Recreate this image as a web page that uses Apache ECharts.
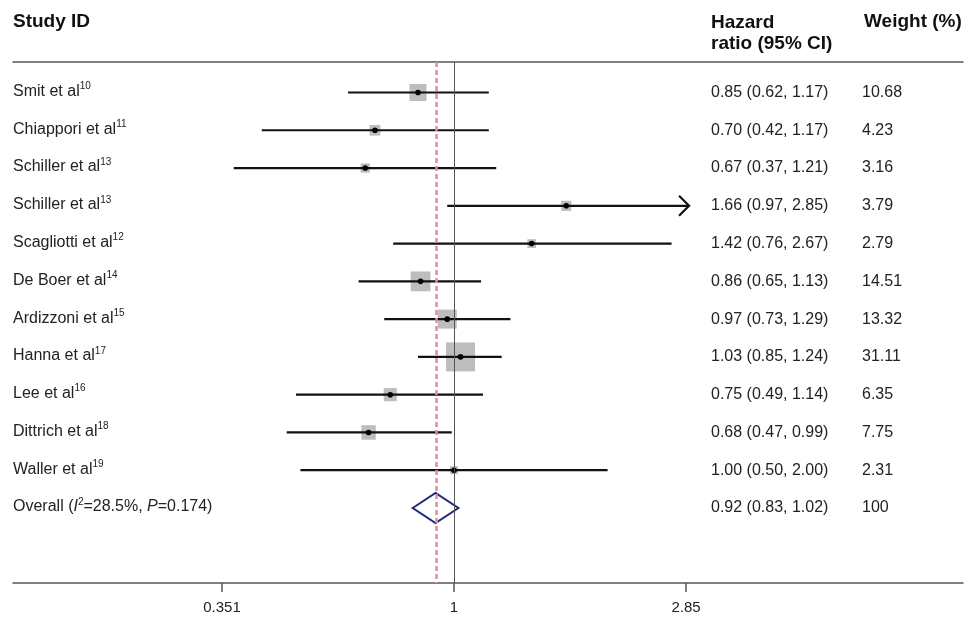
<!DOCTYPE html>
<html><head><meta charset="utf-8">
<script src="https://cdn.jsdelivr.net/npm/echarts@6/dist/echarts.min.js"></script>
<style>html,body{margin:0;padding:0;background:#fff}#c{width:976px;height:619px}</style>
</head><body><div id="c"></div>
<script>
// ---- data ----
const studies = ['Smit et al','Chiappori et al','Schiller et al','Schiller et al','Scagliotti et al','De Boer et al','Ardizzoni et al','Hanna et al','Lee et al','Dittrich et al','Waller et al'];
const refs = ['10','11','13','13','12','14','15','17','16','18','19'];
const hr = [0.85,0.70,0.67,1.66,1.42,0.86,0.97,1.03,0.75,0.68,1.00];
const ciLow = [0.62,0.42,0.37,0.97,0.76,0.65,0.73,0.85,0.49,0.47,0.50];
const ciHigh = [1.17,1.17,1.21,2.85,2.67,1.13,1.29,1.24,1.14,0.99,2.00];
const weights = [10.68,4.23,3.16,3.79,2.79,14.51,13.32,31.11,6.35,7.75,2.31];
const overallHR = 0.92, overallLow = 0.83, overallHigh = 1.02, overallWeight = '100';
const overallI2 = '28.5%', overallP = '0.174';
const xTickValues = [0.351, 1, 2.85];
const xTickLabels = ['0.351', '1', '2.85'];

// ---- build ----
const FONT = '"Liberation Sans", Arial, sans-serif';
const ln = Math.log;
const nRows = studies.length + 1;
const rowIdx = Array.from({length: nRows}, (_, i) => i + 1);
const hrText = hr.map((v, i) => v.toFixed(2) + ' (' + ciLow[i].toFixed(2) + ', ' + ciHigh[i].toFixed(2) + ')')
  .concat([overallHR.toFixed(2) + ' (' + overallLow.toFixed(2) + ', ' + overallHigh.toFixed(2) + ')']);
const wText = weights.map(w => w.toFixed(2)).concat([overallWeight]);
const nameText = studies.map((s, i) => '{b|' + s + '}{sup|' + refs[i] + '}')
  .concat(['{b|Overall (}{it|I}{sup|2}{b|=' + overallI2 + ', }{it|P}{b|=' + overallP + ')}']);
const axisMax = xTickValues[xTickValues.length - 1];
const studyData = hr.map((v, i) => [ln(ciLow[i]), ln(Math.min(ciHigh[i], axisMax)), ln(v), i + 1, weights[i], ciHigh[i] >= axisMax ? 1 : 0]);
const overallData = [[ln(overallLow), ln(overallHigh), ln(overallHR), nRows]];

const X_MIN = -1.9904, X_MAX = 2.2973;
const Y_MIN = 0.1925, Y_MAX = 13.9857;
const BOX_SCALE = 5.2;
const FS = 16;

function rowLabelAxis(pos, margin, fmt, pad) {
  return {
    type: 'value', gridIndex: 0, position: pos, inverse: true, min: Y_MIN, max: Y_MAX,
    axisLine: {show: false}, axisTick: {show: false}, splitLine: {show: false},
    axisLabel: {
      show: true, inside: true, margin: margin, align: 'left', customValues: rowIdx,
      fontFamily: FONT, fontSize: FS, color: '#222', lineHeight: 18, padding: pad,
      formatter: v => fmt[Math.round(v) - 1] || '',
      rich: {
        b: {fontFamily: FONT, fontSize: FS, lineHeight: 18, verticalAlign: 'bottom', color: '#222'},
        sup: {fontFamily: FONT, fontSize: 10, lineHeight: 10, verticalAlign: 'top', color: '#222'},
        it: {fontFamily: FONT, fontSize: FS, fontStyle: 'italic', lineHeight: 18, verticalAlign: 'bottom', color: '#222'}
      }
    }
  };
}

const headStyle = {fontFamily: FONT, fontSize: 19, fontWeight: 'bold', color: '#111'};
const chart = echarts.init(document.getElementById('c'), null, {renderer: 'canvas'});
chart.setOption({
  animation: false,
  backgroundColor: '#fff',
  title: [
    {text: 'Study ID', left: 13, top: 12, padding: 0, textStyle: Object.assign({lineHeight: 19}, headStyle)},
    {text: 'Hazard\nratio (95% CI)', left: 711, top: 12, padding: 0, textStyle: Object.assign({lineHeight: 21}, headStyle)},
    {text: 'Weight (%)', left: 864, top: 12, padding: 0, textStyle: Object.assign({lineHeight: 19}, headStyle)}
  ],
  grid: {left: 13, right: 13, top: 62, bottom: 36, containLabel: false},
  xAxis: [
    {
      type: 'value', position: 'bottom', min: X_MIN, max: X_MAX,
      axisLine: {show: true, lineStyle: {color: '#555', width: 1.5}},
      axisTick: {show: true, customValues: xTickValues.map(ln), length: 9, lineStyle: {color: '#555', width: 1.5}},
      axisLabel: {
        show: true, customValues: xTickValues.map(ln), margin: 17, fontFamily: FONT, fontSize: 15, color: '#222',
        formatter: v => {
          let best = 0;
          xTickValues.forEach((t, i) => { if (Math.abs(ln(t) - v) < Math.abs(ln(xTickValues[best]) - v)) best = i; });
          return xTickLabels[best];
        }
      },
      splitLine: {show: false}
    },
    {
      type: 'value', position: 'top', min: X_MIN, max: X_MAX,
      axisLine: {show: true, lineStyle: {color: '#555', width: 1.5}},
      axisTick: {show: false}, axisLabel: {show: false}, splitLine: {show: false}
    }
  ],
  yAxis: [
    rowLabelAxis('left', 0, nameText, [0, 0, 4, 0]),
    rowLabelAxis('right', 252, hrText, [0, 0, 0, 0]),
    rowLabelAxis('right', 101, wText, [0, 0, 0, 0])
  ],
  series: [
    {
      type: 'line', xAxisIndex: 0, yAxisIndex: 0, data: [], z: 1,
      markLine: {
        silent: true, symbol: 'none', label: {show: false}, animation: false,
        data: [
          {xAxis: ln(1), lineStyle: {color: '#555', width: 1, type: 'solid'}},
          {xAxis: ln(overallHR), lineStyle: {color: '#d4949a', width: 2.5, type: [5, 3]}}
        ]
      }
    },
    {
      type: 'custom', xAxisIndex: 0, yAxisIndex: 0, z: 3,
      encode: {x: [0, 1, 2], y: 3},
      data: studyData,
      renderItem: function (params, api) {
        const y = api.value(3);
        const lo = api.coord([api.value(0), y]);
        const hi = api.coord([api.value(1), y]);
        const c = api.coord([api.value(2), y]);
        const s = BOX_SCALE * Math.sqrt(api.value(4));
        const arrow = api.value(5) === 1;
        const tipX = arrow ? hi[0] + 3 : hi[0];
        const children = [
          {type: 'rect', shape: {x: c[0] - s / 2, y: c[1] - s / 2, width: s, height: s}, style: {fill: '#bdbdbd'}},
          {type: 'line', shape: {x1: lo[0], y1: lo[1], x2: tipX, y2: hi[1]}, style: {stroke: '#111', lineWidth: 2.2}},
          {type: 'circle', shape: {cx: c[0], cy: c[1], r: 2.8}, style: {fill: '#000'}}
        ];
        if (arrow) {
          children.push({type: 'polyline', shape: {points: [[tipX - 10, hi[1] - 10], [tipX, hi[1]], [tipX - 10, hi[1] + 10]]}, style: {stroke: '#111', lineWidth: 2.2, fill: null}});
        }
        return {type: 'group', children: children};
      }
    },
    {
      type: 'custom', xAxisIndex: 0, yAxisIndex: 0, z: 3,
      encode: {x: [0, 1, 2], y: 3},
      data: overallData,
      renderItem: function (params, api) {
        const y = api.value(3);
        const lo = api.coord([api.value(0), y]);
        const hi = api.coord([api.value(1), y]);
        const c = api.coord([api.value(2), y]);
        const h = 15;
        return {type: 'polygon', shape: {points: [[lo[0], lo[1]], [c[0], c[1] - h], [hi[0], hi[1]], [c[0], c[1] + h]]},
          style: {fill: 'none', stroke: '#1f2a7a', lineWidth: 2}};
      }
    }
  ]
});
</script>
</body></html>
